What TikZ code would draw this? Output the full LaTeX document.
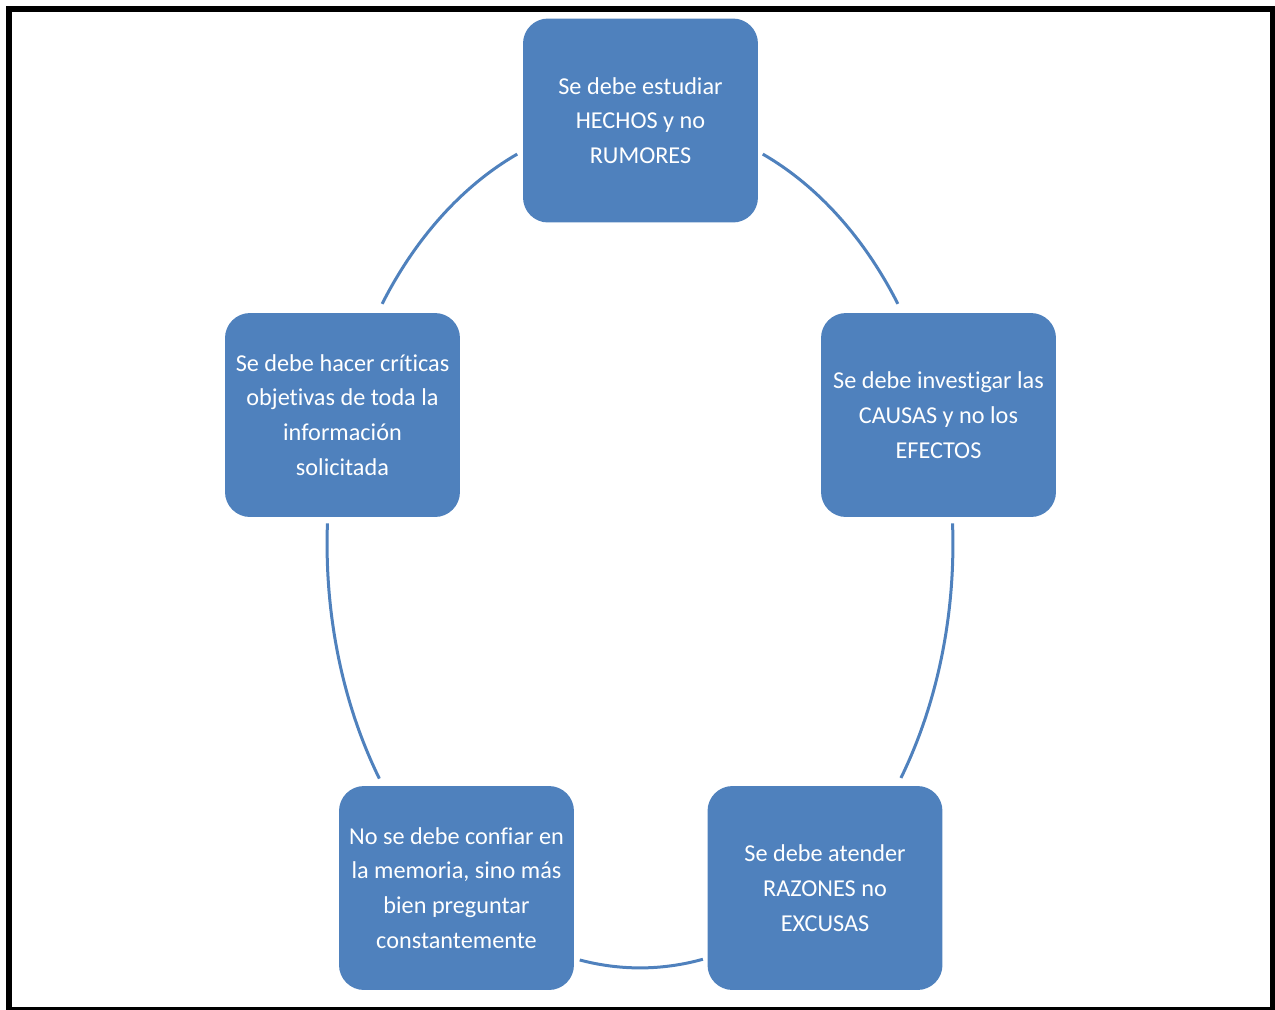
\documentclass[tikz,border=0pt]{standalone}
\usepackage{fontspec}
\setmainfont{Carlito}[Ligatures=NoCommon]
\usepackage{tikz}
\definecolor{officeblue}{RGB}{79, 129, 189}

\begin{document}
\begin{tikzpicture}[x=0.02cm, y=0.02cm,
        cyclebox/.style={fill=officeblue, rounded corners=0.5cm, minimum width=4.7cm, minimum height=4.08cm,
                         inner sep=0pt, text=white, align=center, font=\fontsize{13.8}{19.8}\selectfont},
        cyclearc/.style={draw=officeblue, line width=0.06cm}]
            \useasboundingbox (-640,-465) rectangle (635,544);
            \draw[line width=0.12cm] (-631,535) rectangle (633,-466);
            \coordinate (ring) at (0,0);
            \node[cyclebox] (hechos)   at (   0.5, 423.5) {Se debe estudiar\\HECHOS y no\\RUMORES};
            \node[cyclebox] (causas)   at ( 298.5, 129.0) {Se debe investigar las\\CAUSAS y no los\\EFECTOS};
            \node[cyclebox] (razones)  at ( 185.0,-344.0) {Se debe atender\\RAZONES no\\EXCUSAS};
            \node[cyclebox] (memoria)  at (-183.5,-344.0) {No se debe confiar en\\la memoria, sino más\\bien preguntar\\constantemente};
            \node[cyclebox] (criticas) at (-297.5, 129.0) {Se debe hacer críticas\\objetivas de toda la\\información\\solicitada};
            % arcs of the cycle between the boxes
            \draw[cyclearc] (ring) ++( 34.5:6.26cm and 8.48cm) arc[start angle= 34.5, end angle= 66.9, x radius=6.26cm, y radius=8.48cm];
            \draw[cyclearc] (ring) ++(113.1:6.26cm and 8.48cm) arc[start angle=113.1, end angle=145.5, x radius=6.26cm, y radius=8.48cm];
            \draw[cyclearc] (ring) ++(177.2:6.26cm and 8.48cm) arc[start angle=177.2, end angle=213.6, x radius=6.26cm, y radius=8.48cm];
            \draw[cyclearc] (ring) ++(258.9:6.26cm and 8.48cm) arc[start angle=258.9, end angle=281.6, x radius=6.26cm, y radius=8.48cm];
            \draw[cyclearc] (ring) ++(326.5:6.26cm and 8.48cm) arc[start angle=326.5, end angle=362.8, x radius=6.26cm, y radius=8.48cm];
\end{tikzpicture}
\end{document}
